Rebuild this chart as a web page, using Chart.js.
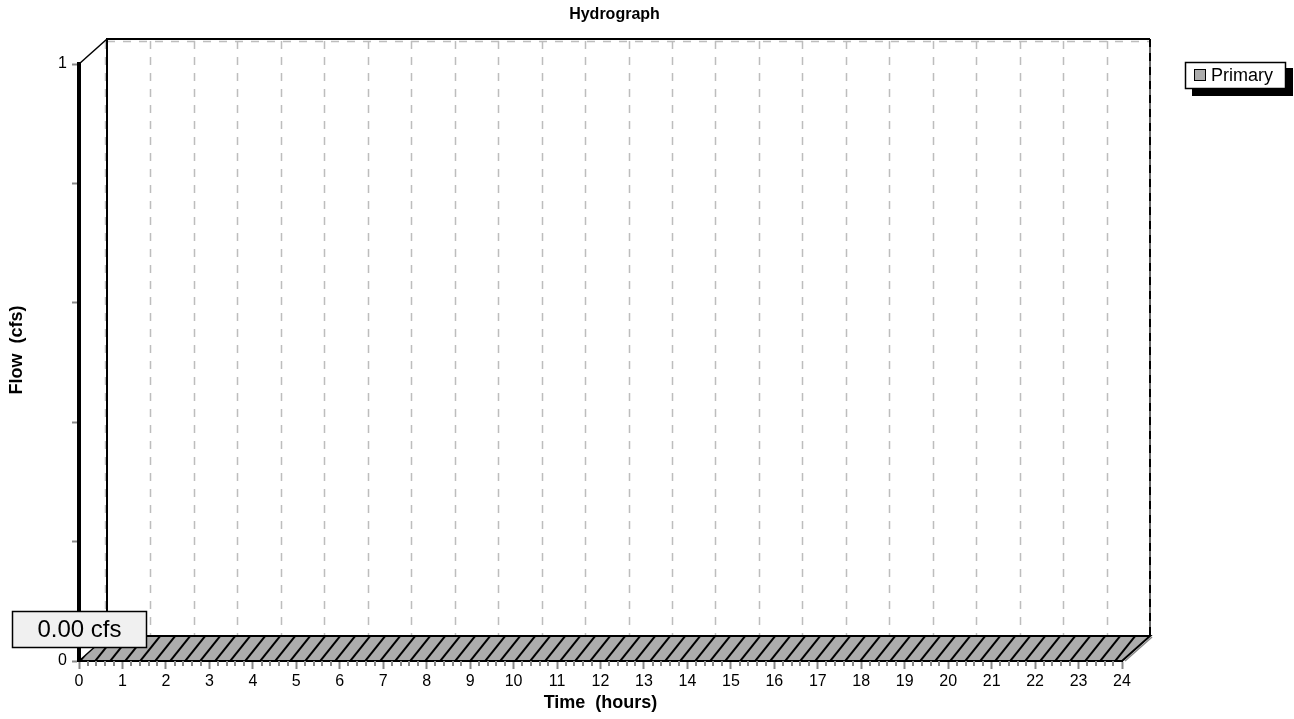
<!DOCTYPE html>
<html>
<head>
<meta charset="utf-8">
<script src="https://cdn.jsdelivr.net/npm/chart.js@4/dist/chart.umd.min.js"></script>
<style>
  html, body { margin: 0; padding: 0; background: #fff; }
  canvas { display: block; }
</style>
</head>
<body>
<canvas id="hydro" width="1294" height="719"></canvas>
<script>
// hydrograph data (hours / cfs)
const hours = [0, 1, 2, 3, 4, 5, 6, 7, 8, 9, 10, 11, 12, 13, 14, 15, 16, 17, 18, 19, 20, 21, 22, 23, 24];
const primaryFlow = [0, 0, 0, 0, 0, 0, 0, 0, 0, 0, 0, 0, 0, 0, 0, 0, 0, 0, 0, 0, 0, 0, 0, 0, 0];
const seriesName = "Primary";
const flowUnit = "cfs";
const yLabelTicks = [0, 1];

const FONT = "'Liberation Sans', Arial, Helvetica, sans-serif";
const DX = 28, DY = -25;          // 3d depth offset
const SLAB = "#acacac";
const GRID = "#bdbdbd";

const back3d = {
  id: "back3d",
  beforeDatasetsDraw(chart) {
    const { ctx, chartArea: a, scales: { x, y } } = chart;
    const t = a.top + DY, b = a.bottom + DY, l = a.left + DX, r = a.right + DX;
    ctx.save();
    // dashed grid on the back wall
    ctx.strokeStyle = GRID;
    ctx.lineWidth = 1.5;
    ctx.setLineDash([8, 8]);
    for (let h = 0; h <= 23; h++) {
      const px = Math.round(x.getPixelForValue(h) + DX) - 2 + (h ? 2 : 0) + 0.5;
      ctx.beginPath();
      ctx.moveTo(px, t + 2);
      ctx.lineTo(px, b);
      ctx.stroke();
    }
    const gy = Math.round(y.getPixelForValue(1) + DY) + 2.5;
    ctx.beginPath();
    ctx.moveTo(l, gy);
    ctx.lineTo(r, gy);
    ctx.stroke();
    // right edge
    ctx.strokeStyle = "#666";
    ctx.setLineDash([]);
    ctx.lineWidth = 2;
    ctx.beginPath();
    ctx.moveTo(r, t);
    ctx.lineTo(r, b);
    ctx.stroke();
    ctx.strokeStyle = "#000";
    ctx.setLineDash([8, 6]);
    ctx.beginPath();
    ctx.moveTo(r, t);
    ctx.lineTo(r, b);
    ctx.stroke();
    // top + left edge, corner diagonal
    ctx.setLineDash([]);
    ctx.lineWidth = 2;
    ctx.beginPath();
    ctx.moveTo(l, b);
    ctx.lineTo(l, t);
    ctx.lineTo(r, t);
    ctx.stroke();
    ctx.lineWidth = 1.5;
    ctx.beginPath();
    ctx.moveTo(a.left, a.top);
    ctx.lineTo(l, t);
    ctx.stroke();
    ctx.restore();
  },
  afterDatasetsDraw(chart) {
    const { ctx } = chart;
    const pts = chart.getDatasetMeta(0).data;
    if (!pts.length) return;
    ctx.save();
    // top surface of the 3d area
    ctx.beginPath();
    pts.forEach((p, i) => (i ? ctx.lineTo(p.x, p.y) : ctx.moveTo(p.x, p.y)));
    for (let i = pts.length - 1; i >= 0; i--) ctx.lineTo(pts[i].x + DX, pts[i].y + DY);
    ctx.closePath();
    ctx.fillStyle = SLAB;
    ctx.fill();
    ctx.save();
    ctx.clip();
    ctx.strokeStyle = "#000";
    ctx.lineWidth = 2;
    const x0 = pts[0].x - 60, x1 = pts[pts.length - 1].x + DX + 20;
    for (let k = x0; k < x1; k += 15) {
      ctx.beginPath();
      ctx.moveTo(k, 700);
      ctx.lineTo(k + 0.8 * 100, 600);
      ctx.stroke();
    }
    ctx.restore();
    // outlines
    const last = pts[pts.length - 1];
    ctx.strokeStyle = "#888";
    ctx.lineWidth = 1.5;
    ctx.beginPath();
    ctx.moveTo(last.x + 3, last.y);
    ctx.lineTo(last.x + DX + 2, last.y + DY + 1);
    ctx.stroke();
    ctx.strokeStyle = "#000";
    ctx.lineWidth = 2;
    ctx.beginPath();
    pts.forEach((p, i) => (i ? ctx.lineTo(p.x + DX, p.y + DY) : ctx.moveTo(p.x + DX, p.y + DY)));
    ctx.lineTo(last.x, last.y);
    ctx.stroke();
    ctx.beginPath();
    pts.forEach((p, i) => (i ? ctx.lineTo(p.x, p.y) : ctx.moveTo(p.x, p.y)));
    ctx.stroke();
    ctx.lineWidth = 1.5;
    ctx.beginPath();
    ctx.moveTo(pts[0].x, pts[0].y);
    ctx.lineTo(pts[0].x + DX, pts[0].y + DY);
    ctx.stroke();
    ctx.restore();
  },
  afterDraw(chart) {
    const { ctx, chartArea: a, scales: { x, y } } = chart;
    ctx.save();
    // minor ticks on time axis
    ctx.strokeStyle = "#888";
    ctx.lineWidth = 2;
    for (let i = 0; i < 24 * 5; i++) {
      if (i % 5 === 0) continue;
      const px = Math.round(x.getPixelForValue(i / 5));
      ctx.beginPath();
      ctx.moveTo(px, a.bottom);
      ctx.lineTo(px, a.bottom + 5);
      ctx.stroke();
    }
    // titles
    ctx.fillStyle = "#000";
    ctx.font = "bold 16px " + FONT;
    ctx.textAlign = "center";
    ctx.textBaseline = "middle";
    ctx.fillText("Hydrograph", (a.left + a.right + DX) / 2, 15);
    ctx.font = "bold 18px " + FONT;
    ctx.save();
    ctx.translate(17, (a.top + DY + a.bottom) / 2);
    ctx.rotate(-Math.PI / 2);
    ctx.fillText("Flow  (" + flowUnit + ")", 0, 0);
    ctx.restore();

    // peak label
    const meta = chart.getDatasetMeta(0).data;
    let pk = 0;
    primaryFlow.forEach((v, i) => { if (v > primaryFlow[pk]) pk = i; });
    const pp = meta[pk];
    const txt = primaryFlow[pk].toFixed(2) + " " + flowUnit;
    ctx.font = "24px " + FONT;
    const w = 134, h = 36;
    const bx = Math.round(pp.x - w / 2) + 0.5, by = Math.round(pp.y - 14 - h) + 0.5;
    ctx.fillStyle = "#f0f0f0";
    ctx.fillRect(bx, by, w, h);
    ctx.strokeStyle = "#000";
    ctx.lineWidth = 1.5;
    ctx.strokeRect(bx, by, w, h);
    ctx.fillStyle = "#000";
    ctx.fillText(txt, bx + w / 2, by + h / 2 + 1);

    // legend with drop shadow
    const lx = 1185, ly = 62, lw = 101, lh = 27;
    ctx.fillStyle = "#000";
    ctx.fillRect(lx + 7, ly + 6, lw, lh + 1);
    ctx.fillStyle = "#fff";
    ctx.fillRect(lx, ly, lw, lh);
    ctx.lineWidth = 1.5;
    ctx.strokeRect(lx + 0.5, ly + 0.5, lw - 1, lh - 1);
    ctx.lineWidth = 1;
    ctx.fillStyle = SLAB;
    ctx.fillRect(lx + 9.5, ly + 7.5, 11, 11);
    ctx.strokeRect(lx + 9.5, ly + 7.5, 11, 11);
    ctx.fillStyle = "#000";
    ctx.font = "18px " + FONT;
    ctx.textAlign = "left";
    ctx.fillText(chart.data.datasets[0].label, lx + 26, ly + lh / 2 + 1);
    ctx.restore();
  }
};

new Chart(document.getElementById("hydro"), {
  type: "line",
  data: {
    datasets: [{
      label: seriesName,
      data: hours.map((h, i) => ({ x: h, y: primaryFlow[i] })),
      borderWidth: 0,
      pointRadius: 0,
      showLine: false,
      fill: false
    }]
  },
  options: {
    responsive: false,
    devicePixelRatio: 1,
    animation: false,
    events: [],
    layout: { padding: { top: 64, right: 172, bottom: 0, left: 0 } },
    plugins: { legend: { display: false }, title: { display: false }, tooltip: { enabled: false } },
    scales: {
      x: {
        type: "linear",
        min: 0,
        max: 24,
        afterFit(s) { s.height = 58; },
        grid: { drawOnChartArea: false, drawTicks: true, tickLength: 8, tickColor: "#888", tickWidth: 2 },
        border: { display: true, color: "#000", width: 2 },
        ticks: { stepSize: 1, autoSkip: false, maxRotation: 0, color: "#000", padding: 3, font: { family: FONT, size: 16 } },
        title: { display: true, text: "Time  (hours)", color: "#000", font: { family: FONT, size: 18, weight: "bold" }, padding: { top: 0, bottom: 5 } }
      },
      y: {
        type: "linear",
        min: 0,
        max: 1,
        afterFit(s) { s.width = 79; },
        grid: { drawOnChartArea: false, drawTicks: true, tickLength: 7, tickColor: "#888", tickWidth: 2 },
        border: { display: true, color: "#000", width: 4 },
        ticks: {
          stepSize: 0.2,
          autoSkip: false,
          color: "#000",
          padding: 5,
          font: { family: FONT, size: 16 },
          callback: (v) => (yLabelTicks.some((t) => Math.abs(t - v) < 1e-6) ? String(Math.round(v)) : "")
        }
      }
    }
  },
  plugins: [back3d]
});
</script>
</body>
</html>
